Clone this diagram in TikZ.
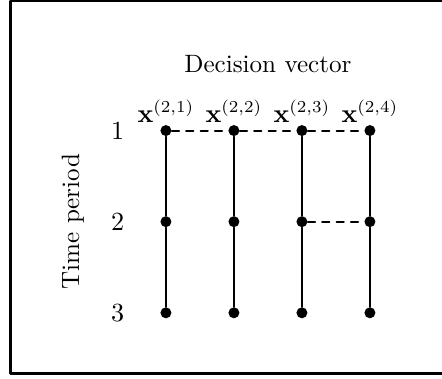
\documentclass[tikz,border=0pt]{standalone}
\usepackage{amsmath,amssymb}
\usetikzlibrary{arrows.meta}
\tikzset{
  every picture/.style={line join=round, line cap=round, >=Stealth},
  thick/.style={line width=0.85pt},
  dot/.style={circle, fill, inner sep=0pt, minimum size=4.6pt},
}

\begin{document}
\begin{tikzpicture}[font=\fontsize{10.5pt}{12.6pt}\selectfont]
\useasboundingbox (-2.44,-3.64) rectangle (4.06,1.92);
\draw[line width=1.1pt] (-2.29,-3.57) rectangle (4.5,1.907);
\node (title) at (1.5,0.98) {Decision vector};
\node[rotate=90] (tp) at (-1.37,-1.34) {Time period};
% time periods
\node (t1) at (-0.71,0) {$1$};
\node (t2) at (-0.71,-1.34) {$2$};
\node (t3) at (-0.71,-2.68) {$3$};
% period 1
\node[dot] (d11) at (0,0) {};
\node[dot] (d12) at (1,0) {};
\node[dot] (d13) at (2,0) {};
\node[dot] (d14) at (3,0) {};
% period 2
\node[dot] (d21) at (0,-1.34) {};
\node[dot] (d22) at (1,-1.34) {};
\node[dot] (d23) at (2,-1.34) {};
\node[dot] (d24) at (3,-1.34) {};
% period 3
\node[dot] (d31) at (0,-2.68) {};
\node[dot] (d32) at (1,-2.68) {};
\node[dot] (d33) at (2,-2.68) {};
\node[dot] (d34) at (3,-2.68) {};
% scenario vectors
\node[above] (x1) at (d11.center) {$\mathbf{x}^{(2,1)}$};
\node[above] (x2) at (d12.center) {$\mathbf{x}^{(2,2)}$};
\node[above] (x3) at (d13.center) {$\mathbf{x}^{(2,3)}$};
\node[above] (x4) at (d14.center) {$\mathbf{x}^{(2,4)}$};
% non-anticipativity
\draw[thick] (d11) -- (d21) -- (d31);
\draw[thick] (d12) -- (d22) -- (d32);
\draw[thick] (d13) -- (d23) -- (d33);
\draw[thick] (d14) -- (d24) -- (d34);
\draw[thick, dashed] (d11) -- (d12) -- (d13) -- (d14);
\draw[thick, dashed] (d23) -- (d24);
\end{tikzpicture}
\end{document}
